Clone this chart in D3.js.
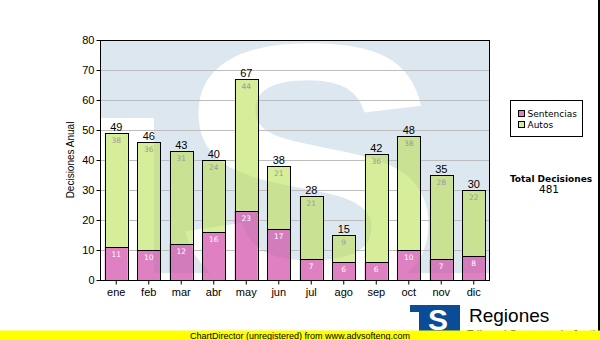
<!DOCTYPE html>
<html>
<head>
<meta charset="utf-8">
<script src="https://cdn.jsdelivr.net/npm/d3@7"></script>
<style>
  html, body { margin: 0; padding: 0; background: #fff; }
  svg { display: block; }
  text { font-family: "Liberation Sans", Arial, sans-serif; }
</style>
</head>
<body>
<svg id="chart" width="600" height="340"></svg>
<script>
// Monthly decisions, stacked: Sentencias at the bottom, Autos on top
const months = ["ene", "feb", "mar", "abr", "may", "jun", "jul", "ago", "sep", "oct", "nov", "dic"];
const sentencias = [11, 10, 12, 16, 23, 17, 7, 6, 6, 10, 7, 8];
const autos = [38, 36, 31, 24, 44, 21, 21, 9, 36, 38, 28, 22];
const yTicks = [0, 10, 20, 30, 40, 50, 60, 70, 80];
const seriesNames = ["Sentencias", "Autos"];
const seriesColors = ["#de80c1", "#d6ed99"];
// the same fills where the pale emblem sits behind them
const seriesShade = ["#d27cbc", "#c9e193"];

const svg = d3.select("#chart");
const plot = { left: 100, right: 490, top: 40, bottom: 280 };

const x = d3.scaleBand().domain(months).range([plot.left, plot.right])
  .paddingInner(0.29).paddingOuter(0.145);
const y = d3.scaleLinear().domain([0, 80]).range([plot.bottom, plot.top]);

const rows = months.map((m, i) => ({ month: m, Sentencias: sentencias[i], Autos: autos[i] }));
const stacked = d3.stack().keys(seriesNames)(rows);
const totals = months.map((m, i) => sentencias[i] + autos[i]);

const defs = svg.append("defs");
defs.append("clipPath").attr("id", "plotClip")
  .append("rect").attr("x", plot.left).attr("y", plot.top)
  .attr("width", plot.right - plot.left).attr("height", plot.bottom - plot.top);

// Background emblem: a pale square with a notch at the lower left and a large "S" cut out
const mask = defs.append("mask").attr("id", "emblem")
  .attr("maskUnits", "userSpaceOnUse").attr("x", 0).attr("y", 0).attr("width", 600).attr("height", 340);
mask.append("rect").attr("x", plot.left).attr("y", plot.top).attr("width", 400).attr("height", 233).attr("fill", "#fff");
mask.append("rect").attr("x", plot.left).attr("y", 118).attr("width", 54).attr("height", 170).attr("fill", "#000");
mask.append("text").attr("x", 201).attr("y", 296)
  .attr("transform", "translate(428,0) scale(1.12,1) translate(-428,0)")
  .attr("font-family", "Liberation Sans, Arial, sans-serif").attr("font-weight", "bold")
  .attr("font-size", 362).attr("fill", "#000").text("S");

const plotG = svg.append("g").attr("clip-path", "url(#plotClip)");
plotG.append("rect").attr("x", plot.left).attr("y", plot.top)
  .attr("width", plot.right - plot.left).attr("height", plot.bottom - plot.top).attr("fill", "#fff");
plotG.append("rect").attr("x", plot.left).attr("y", plot.top)
  .attr("width", plot.right - plot.left).attr("height", plot.bottom - plot.top)
  .attr("fill", "#dde7f0").attr("mask", "url(#emblem)");

// Horizontal grid lines
plotG.selectAll("line.grid").data(yTicks.filter(t => t > 0 && t < 80)).join("line")
  .attr("class", "grid")
  .attr("x1", plot.left).attr("x2", plot.right)
  .attr("y1", d => Math.round(y(d)) + 0.5).attr("y2", d => Math.round(y(d)) + 0.5)
  .attr("stroke", "#bdbdbd").attr("stroke-width", 1);

// Stacked bars: plain fill, then the shaded fill wherever the emblem shows
stacked.forEach((layer, si) => {
  plotG.append("g").selectAll("rect").data(layer).join("rect")
    .attr("x", d => x(d.data.month))
    .attr("y", d => y(d[1]))
    .attr("width", x.bandwidth())
    .attr("height", d => y(d[0]) - y(d[1]))
    .attr("fill", seriesColors[si]);
  plotG.append("g").attr("mask", "url(#emblem)")
    .selectAll("rect").data(layer).join("rect")
    .attr("x", d => x(d.data.month))
    .attr("y", d => y(d[1]))
    .attr("width", x.bandwidth())
    .attr("height", d => y(d[0]) - y(d[1]))
    .attr("fill", seriesShade[si]);
});

// Bar outlines
stacked.forEach(layer => {
  plotG.append("g").selectAll("rect").data(layer).join("rect")
    .attr("x", d => Math.round(x(d.data.month)) + 0.5)
    .attr("y", d => Math.round(y(d[1])) + 0.5)
    .attr("width", Math.round(x.bandwidth()))
    .attr("height", d => Math.round(y(d[0])) - Math.round(y(d[1])))
    .attr("fill", "none").attr("stroke", "#000").attr("stroke-width", 1);
});

// Segment labels inside each bar
const innerColors = ["#ffffff", "#9a9a9a"];
stacked.forEach((layer, si) => {
  svg.append("g").selectAll("text").data(layer).join("text")
    .attr("x", d => x(d.data.month) + x.bandwidth() / 2)
    .attr("y", d => y(d[1]) + 10)
    .attr("text-anchor", "middle")
    .style("font-family", "'DejaVu Sans', sans-serif")
    .style("font-size", "7.5px")
    .attr("fill", innerColors[si])
    .text(d => d[1] - d[0]);
});

// Totals above each bar
svg.append("g").selectAll("text").data(months).join("text")
  .attr("x", m => x(m) + x.bandwidth() / 2)
  .attr("y", (m, i) => y(totals[i]) - 2.5)
  .attr("text-anchor", "middle")
  .style("font-size", "11px")
  .attr("fill", "#000")
  .text((m, i) => totals[i]);

// Plot border
svg.append("rect").attr("x", plot.left + 0.5).attr("y", plot.top + 0.5)
  .attr("width", plot.right - plot.left - 1).attr("height", plot.bottom - plot.top)
  .attr("fill", "none").attr("stroke", "#000").attr("stroke-width", 1);

// Axes
const yAxis = svg.append("g").attr("transform", `translate(${plot.left + 0.5},0)`)
  .call(d3.axisLeft(y).tickValues(yTicks).tickSize(4).tickSizeOuter(0).tickPadding(2));
yAxis.select(".domain").remove();
yAxis.selectAll("text").style("font-family", "'Liberation Sans', Arial, sans-serif").style("font-size", "11px").attr("fill", "#000");
yAxis.selectAll("line").attr("stroke", "#000");

const xAxis = svg.append("g").attr("transform", `translate(0,${plot.bottom + 0.5})`)
  .call(d3.axisBottom(x).tickSize(4).tickSizeOuter(0).tickPadding(4));
xAxis.select(".domain").remove();
xAxis.selectAll("text").style("font-family", "'Liberation Sans', Arial, sans-serif").style("font-size", "11px").attr("fill", "#000");
xAxis.selectAll("line").attr("stroke", "#000");

svg.append("text")
  .attr("transform", "translate(74,160) rotate(-90)")
  .attr("text-anchor", "middle")
  .style("font-size", "10px")
  .attr("fill", "#000")
  .text("Decisiones Anual");

// Legend
const legend = svg.append("g");
legend.append("rect").attr("x", 510.5).attr("y", 100.5).attr("width", 72).attr("height", 36)
  .attr("fill", "#fff").attr("stroke", "#000");
seriesNames.forEach((name, i) => {
  legend.append("rect").attr("x", 518.5).attr("y", 110.5 + i * 11).attr("width", 6).attr("height", 6)
    .attr("fill", seriesColors[i]).attr("stroke", "#000");
  legend.append("text").attr("x", 527.5).attr("y", 117 + i * 11)
    .style("font-family", "'DejaVu Sans', sans-serif").style("font-size", "9px").attr("fill", "#000")
    .text(name);
});

// Grand total
svg.append("text").attr("x", 551).attr("y", 182).attr("text-anchor", "middle")
  .style("font-family", "'DejaVu Sans', sans-serif").style("font-size", "9px").style("font-weight", "bold")
  .attr("fill", "#000").text("Total Decisiones");
svg.append("text").attr("x", 549).attr("y", 192.5).attr("text-anchor", "middle")
  .style("font-family", "'DejaVu Sans', sans-serif").style("font-size", "10.5px")
  .attr("fill", "#000").text(d3.sum(totals));

// Right frame edge
svg.append("rect").attr("x", 598).attr("y", 0).attr("width", 2).attr("height", 331).attr("fill", "#000");

// Brand logo at the bottom right
svg.append("rect").attr("x", 410).attr("y", 305).attr("width", 50).attr("height", 26).attr("fill", "#0b4c97");
svg.append("rect").attr("x", 410).attr("y", 312).attr("width", 9).attr("height", 19).attr("fill", "#fff");
svg.append("text").attr("x", 438).attr("y", 330).attr("text-anchor", "middle")
  .style("font-size", "30px").style("font-weight", "bold").attr("fill", "#fff").text("S");
svg.append("text").attr("x", 469).attr("y", 321.5)
  .style("font-size", "19px").attr("fill", "#000").text("Regiones");
svg.append("text").attr("x", 467).attr("y", 337.5)
  .style("font-size", "11px").attr("fill", "#000").text("Tribunal Supremo de Justicia");

// Footer band
svg.append("rect").attr("x", 0).attr("y", 330.5).attr("width", 600).attr("height", 10).attr("fill", "#ffff00");
svg.append("text").attr("x", 190).attr("y", 338.5)
  .style("font-size", "9px").attr("fill", "#000")
  .text("ChartDirector (unregistered) from www.advsofteng.com");
</script>
</body>
</html>
